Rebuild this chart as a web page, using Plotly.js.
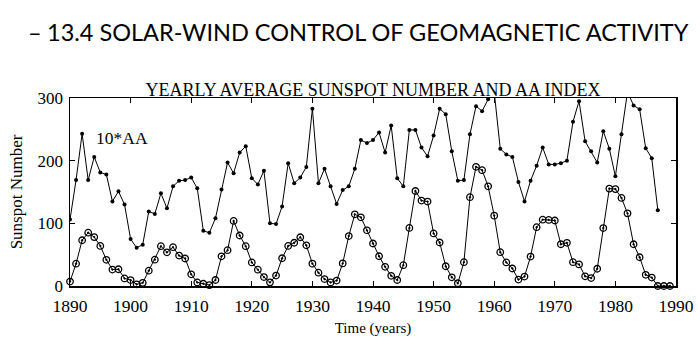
<!DOCTYPE html>
<html>
<head>
<meta charset="utf-8">
<script src="https://cdn.plot.ly/plotly-3.0.1.min.js"></script>
<style>
html,body{margin:0;padding:0;background:#fff;}
#chart{width:700px;height:352px;}
</style>
</head>
<body>
<div id="chart"></div>
<script>
// Years (1890-1989)
const years = [
1890,1891,1892,1893,1894,1895,1896,1897,1898,1899,
1900,1901,1902,1903,1904,1905,1906,1907,1908,1909,
1910,1911,1912,1913,1914,1915,1916,1917,1918,1919,
1920,1921,1922,1923,1924,1925,1926,1927,1928,1929,
1930,1931,1932,1933,1934,1935,1936,1937,1938,1939,
1940,1941,1942,1943,1944,1945,1946,1947,1948,1949,
1950,1951,1952,1953,1954,1955,1956,1957,1958,1959,
1960,1961,1962,1963,1964,1965,1966,1967,1968,1969,
1970,1971,1972,1973,1974,1975,1976,1977,1978,1979,
1980,1981,1982,1983,1984,1985,1986,1987,1988,1989];

// Yearly average sunspot number
const sunspot = [
7.1,35.6,73.0,85.1,78.0,64.0,41.8,26.2,26.7,12.1,
9.5,2.7,5.0,24.4,42.0,63.5,53.8,62.0,48.5,43.9,
18.6,5.7,3.6,1.4,9.6,47.4,57.1,103.9,80.6,63.6,
37.6,26.1,14.2,5.8,16.7,44.3,63.9,69.0,77.8,64.9,
35.7,21.2,11.1,5.7,8.7,36.1,79.7,114.4,109.6,88.8,
67.8,47.5,30.6,16.3,9.6,33.2,92.6,151.6,136.3,134.7,
83.9,69.4,31.5,13.9,4.4,38.0,141.7,190.2,184.8,159.0,
112.3,53.9,37.6,27.9,10.2,15.1,47.0,93.8,105.9,105.5,
104.5,66.6,68.9,38.0,34.5,15.5,12.6,27.5,92.5,155.4,
154.6,140.5,115.9,66.6,45.9,17.9,13.4,0,0,0];

// Years for the AA index (1890-1987)
const aaYears = years.slice(0, 98);
// 10 * yearly average AA index
const aa10 = [
106,169,243,169,206,181,178,135,151,130,
75,61,66,119,115,148,124,159,168,169,
173,156,88,85,108,154,197,180,213,223,
172,162,184,100,99,127,196,164,173,190,
283,164,187,159,131,153,159,187,233,228,
233,245,213,256,172,159,249,249,221,207,
240,283,274,215,168,169,242,287,279,298,
310,219,210,206,166,135,168,192,221,194,
194,196,200,262,295,231,215,197,247,219,
175,242,310,288,282,220,204,121];

const xTicks = [1890,1900,1910,1920,1930,1940,1950,1960,1970,1980,1990];
const yTicks = [0,100,200,300];

const serif = 'Liberation Serif, Times New Roman, serif';

const traces = [
  {
    x: aaYears, y: aa10, type: 'scatter', mode: 'lines+markers',
    line: {color: '#000', width: 1},
    marker: {symbol: 'circle', size: 4, color: '#000'},
    cliponaxis: true, showlegend: false
  },
  {
    x: years, y: sunspot, type: 'scatter', mode: 'lines+markers',
    line: {color: '#000', width: 1},
    marker: {symbol: 'circle-open-dot', size: 6.5, color: '#000', line: {width: 1.3, color: '#000'}},
    cliponaxis: false, showlegend: false
  }
];

const layout = {
  width: 700, height: 352,
  margin: {l: 70, r: 24, t: 98, b: 66},
  paper_bgcolor: '#fff', plot_bgcolor: '#fff',
  font: {family: serif, color: '#000', size: 15},
  title: {
    text: 'YEARLY AVERAGE SUNSPOT NUMBER AND AA INDEX',
    font: {family: serif, size: 18, color: '#000'},
    xref: 'paper', x: 0.5, xanchor: 'center',
    yref: 'paper', y: 1, yanchor: 'bottom', pad: {b: 2}
  },
  xaxis: {
    range: [1890, 1990], tickvals: xTicks, ticktext: xTicks.map(String),
    ticks: 'inside', ticklen: 5, tickwidth: 1, tickcolor: '#000',
    showline: true, linecolor: '#000', linewidth: 1.5, mirror: 'ticks',
    showgrid: false, zeroline: false,
    tickfont: {family: serif, size: 17.5, color: '#000'},
    ticklabelstandoff: 3,
    title: {text: 'Time (years)', font: {family: serif, size: 15, color: '#000'}, standoff: 8}
  },
  yaxis: {
    range: [0, 300], tickvals: yTicks, ticktext: yTicks.map(String),
    ticks: 'inside', ticklen: 5, tickwidth: 1, tickcolor: '#000',
    showline: true, linecolor: '#000', linewidth: 1.5, mirror: 'ticks',
    showgrid: false, zeroline: false,
    tickfont: {family: serif, size: 17, color: '#000'},
    ticklabelstandoff: 2,
    title: {text: 'Sunspot Number', font: {family: serif, size: 17, color: '#000'}, standoff: 10}
  },
  annotations: [
    {
      text: '13.4 SOLAR-WIND CONTROL OF GEOMAGNETIC ACTIVITY',
      xref: 'paper', yref: 'paper', x: 0.492, y: 1.35,
      xanchor: 'center', yanchor: 'middle', showarrow: false,
      font: {family: 'Lato, Noto Sans, sans-serif', size: 23.5, color: '#000'}
    },
    {
      text: '\u2013',
      xref: 'paper', yref: 'paper', x: -0.058, y: 1.35,
      xanchor: 'center', yanchor: 'middle', showarrow: false,
      font: {family: 'Lato, Noto Sans, sans-serif', size: 23.5, color: '#000'}
    },
    {
      text: '10*AA',
      xref: 'x', yref: 'y', x: 1898.6, y: 236,
      xanchor: 'center', yanchor: 'middle', showarrow: false,
      font: {family: serif, size: 17.5, color: '#000'}
    }
  ]
};

Plotly.newPlot('chart', traces, layout, {displayModeBar: false, staticPlot: true});
</script>
</body>
</html>
